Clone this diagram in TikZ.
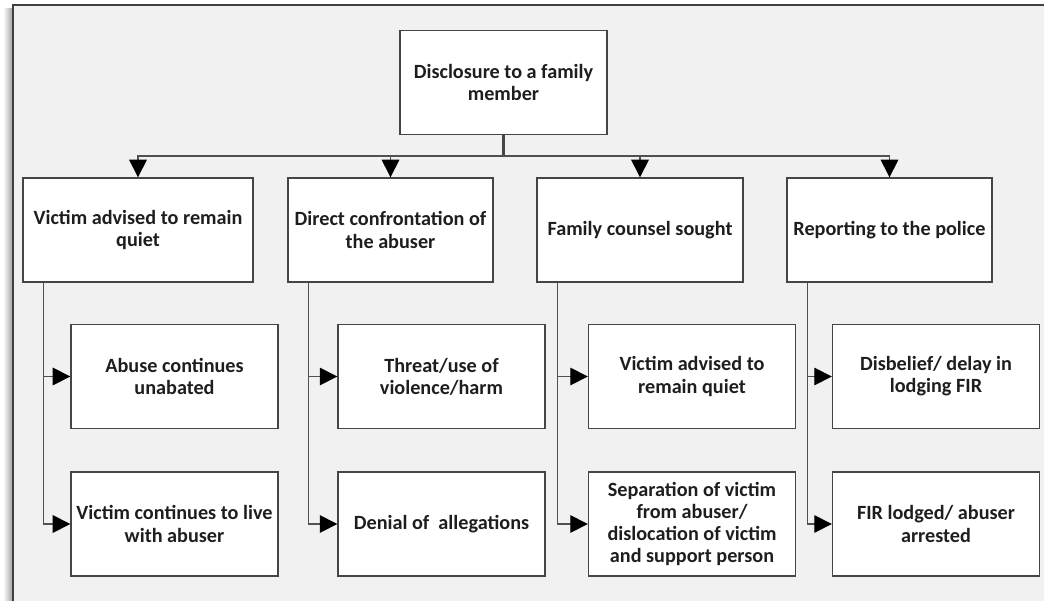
\documentclass[tikz,border=0pt]{standalone}
\usepackage{fontspec}
\setmainfont{Carlito}
\usetikzlibrary{arrows.meta}
\definecolor{framegray}{HTML}{F1F1F1}
\definecolor{boxline}{HTML}{454545}
\definecolor{linkline}{HTML}{505050}
\definecolor{textgray}{HTML}{1E1E1E}
\begin{document}
\begin{tikzpicture}[x=0.02cm,y=-0.02cm,
    box/.style={draw=boxline,line width=0.8pt,fill=white,align=center,inner sep=0pt,
      minimum width=4.14cm,minimum height=2.08cm,text=textgray,
      font=\bfseries\fontsize{11.5}{12.6}\selectfont},
    link/.style={draw=linkline,line width=0.8pt,-{Triangle[width=10pt,length=10pt,color=black]}}]
  \useasboundingbox (0,0) rectangle (1044,601);
  % frame
  \shade[left color=white,right color=gray!75] (3,9) rectangle (13,610);
  \fill[framegray] (13,5) rectangle (1060,610);
  \draw[gray!50!black,line width=1.1pt] (13,610)--(13,5)--(1060,5);
  % top
  \node[box,minimum width=4.14cm] (disc) at (503.5,82.5) {Disclosure to a family\\member};
  % second row
  \node[box,minimum width=4.6cm] (quiet) at (138,230) {Victim advised to remain\\quiet};
  \node[box,minimum width=4.1cm] (confront) at (390.5,230) {Direct confrontation of\\the abuser};
  \node[box,minimum width=4.12cm] (counsel) at (640,230) {Family counsel sought};
  \node[box,minimum width=4.1cm] (police) at (889.5,230) {Reporting to the police};
  % third row
  \node[box] (abuse) at (174.5,376.5) {Abuse continues\\unabated};
  \node[box] (live) at (174.5,524) {Victim continues to live\\with abuser};
  \node[box] (threat) at (441.5,376.5) {Threat/use of\\violence/harm};
  \node[box] (denial) at (441.5,524) {Denial of\ \ allegations};
  \node[box] (advised) at (692,376.5) {Victim advised to\\remain quiet};
  \node[box] (separate) at (692,524) {Separation of victim\\from abuser/\\dislocation of victim\\and support person};
  \node[box] (disbelief) at (936,376.5) {Disbelief/ delay in\\lodging FIR};
  \node[box] (lodged) at (936,524) {FIR lodged/ abuser\\arrested};
  % bus
  \path (disc.south) ++(0,21) coordinate (bus);
  \draw[draw=boxline,line width=1.2pt] (disc.south)--(bus);
  \foreach \b in {quiet,confront,counsel,police}
    \draw[link] (bus) -| (\b.north);
  % trunks
  \foreach \b/\u/\v in {quiet/abuse/live,confront/threat/denial,counsel/advised/separate,police/disbelief/lodged}
  {
    \draw[link] (\b.south west) ++(21,0) |- (\u.west);
    \draw[link] (\b.south west) ++(21,0) |- (\v.west);
  }
\end{tikzpicture}
\end{document}
